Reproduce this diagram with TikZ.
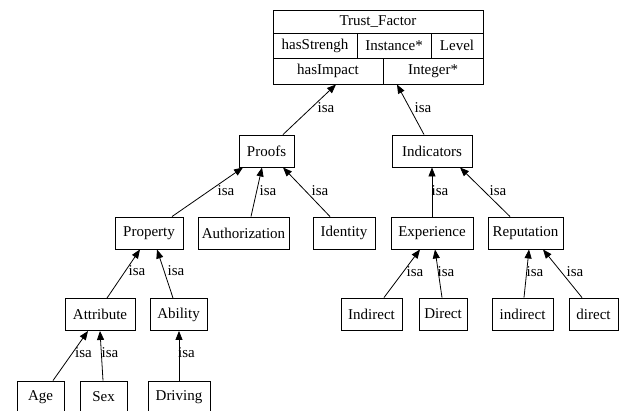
\documentclass[tikz,border=0pt]{standalone}
\usepackage{fontspec}
\setmainfont{Liberation Serif}
\usetikzlibrary{arrows.meta}
\begin{document}
\begin{tikzpicture}[x=1pt,y=-1pt,
  box/.style={draw,line width=0.9pt,inner sep=0pt,minimum height=32pt,font=\fontsize{15}{17}\selectfont},
  lbl/.style={inner sep=0pt,font=\fontsize{15}{17}\selectfont},
  isa/.style={line width=0.8pt,-{Triangle[length=9pt,width=7pt]}},
  cell/.style={inner sep=0pt,font=\fontsize{15}{17}\selectfont}]
\useasboundingbox (0,0) rectangle (620,410);

% record node
\node[draw,line width=0.9pt,minimum width=210pt,minimum height=74pt,inner sep=0pt] (TF) at (378,47) {};
\draw[line width=0.9pt] (273,33) -- (483,33) (273,58) -- (483,58)
  (357,33) -- (357,58) (431,33) -- (431,58) (383,58) -- (383,84);
\node[cell] (tfname) at (378,21.5) {Trust\_Factor};
\node[cell] (tfs) at (315,45.5) {hasStrengh};
\node[cell] (tfi) at (394,45.5) {Instance*};
\node[cell] (tfl) at (457,45.5) {Level};
\node[cell] (tfh) at (328,71) {hasImpact};
\node[cell] (tfn) at (433,71) {Integer*};

% class boxes
\node[box,minimum width=55pt] (proofs) at (266.5,151) {Proofs};
\node[box,minimum width=80pt] (ind) at (432,151) {Indicators};
\node[box,minimum width=68pt] (prop) at (149,233) {Property};
\node[box,minimum width=91pt] (auth) at (243.5,233) {Authorization};
\node[box,minimum width=62pt] (ident) at (344,233) {Identity};
\node[box,minimum width=82pt] (exp) at (432,233) {Experience};
\node[box,minimum width=75pt] (rep) at (525.5,233) {Reputation};
\node[box,minimum width=70pt] (attr) at (100,314.5) {Attribute};
\node[box,minimum width=57pt] (abil) at (178.5,314.5) {Ability};
\node[box,minimum width=61pt] (indA) at (371.5,314) {Indirect};
\node[box,minimum width=48pt] (dirA) at (443,314) {Direct};
\node[box,minimum width=61pt] (indB) at (522.5,314) {indirect};
\node[box,minimum width=49pt] (dirB) at (593.5,314) {direct};
\node[box,minimum width=47pt] (age) at (40.5,397) {Age};
\node[box,minimum width=47pt] (sex) at (103.5,397) {Sex};
\node[box,minimum width=62pt] (drive) at (179,397) {Driving};

% isa connectors
\draw[isa] ([xshift=16.5pt]proofs.north) -- ([xshift=-42pt]TF.south);
\draw[isa] ([xshift=-8pt]ind.north) -- ([xshift=19pt]TF.south);
\draw[isa] ([xshift=23pt]prop.north) -- ([xshift=-23.5pt]proofs.south);
\draw[isa] ([xshift=7.5pt]auth.north) -- ([xshift=-4.5pt]proofs.south);
\draw[isa] ([xshift=-14pt]ident.north) -- ([xshift=16.5pt]proofs.south);
\draw[isa] (exp.north) -- (ind.south);
\draw[isa] ([xshift=-15.5pt]rep.north) -- ([xshift=28pt]ind.south);
\draw[isa] ([xshift=7pt]attr.north) -- ([xshift=-9pt]prop.south);
\draw[isa] ([xshift=-5.5pt]abil.north) -- ([xshift=8pt]prop.south);
\draw[isa] ([xshift=12.5pt]indA.north) -- ([xshift=-12pt]exp.south);
\draw[isa] ([xshift=-1pt]dirA.north) -- ([xshift=3pt]exp.south);
\draw[isa] ([xshift=1.5pt]indB.north) -- ([xshift=3.5pt]rep.south);
\draw[isa] ([xshift=-11.5pt]dirB.north) -- ([xshift=17.5pt]rep.south);
\draw[isa] ([xshift=12.5pt]age.north) -- ([xshift=-12pt]attr.south);
\draw[isa] ([xshift=-0.5pt]sex.north) -- (attr.south);
\draw[isa] (drive.north) -- ([xshift=0.5pt]abil.south);

% edge labels
\node[lbl] (l1) at (326,108) {isa};
\node[lbl] (l2) at (423,108) {isa};
\node[lbl] (l3) at (226,191) {isa};
\node[lbl] (l4) at (268,191) {isa};
\node[lbl] (l5) at (320,191) {isa};
\node[lbl] (l6) at (440,191) {isa};
\node[lbl] (l7) at (498,191) {isa};
\node[lbl] (l8) at (137,271) {isa};
\node[lbl] (l9) at (176,271) {isa};
\node[lbl] (l10) at (415,272) {isa};
\node[lbl] (l11) at (446,272) {isa};
\node[lbl] (l12) at (535,272) {isa};
\node[lbl] (l13) at (575,272) {isa};
\node[lbl] (l14) at (83.5,353) {isa};
\node[lbl] (l15) at (110,353) {isa};
\node[lbl] (l16) at (186.5,353) {isa};
\end{tikzpicture}
\end{document}
